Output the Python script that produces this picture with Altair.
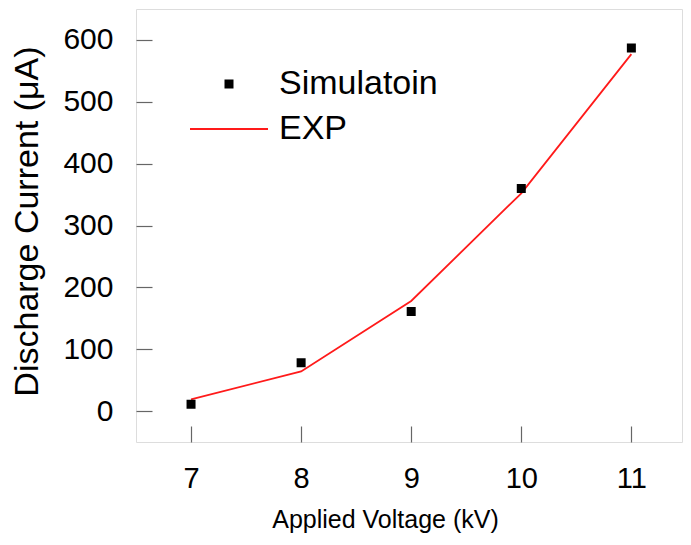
import altair as alt
import pandas as pd

# ---- data ----
voltage = [7, 8, 9, 10, 11]
simulation = [11, 78, 161, 360, 587]
experiment = [19, 64, 178, 352, 577]
series_names = ["Simulatoin", "EXP"]
x_ticks = [7, 8, 9, 10, 11]
y_ticks = [0, 100, 200, 300, 400, 500, 600]

sim_df = pd.DataFrame({"voltage": voltage, "current": simulation, "series": series_names[0]})
exp_df = pd.DataFrame({"voltage": voltage, "current": experiment, "series": series_names[1]})

FONT = "Liberation Sans"

x_scale = alt.Scale(domain=[6.5, 11.46], nice=False, zero=False)
y_scale = alt.Scale(domain=[-50, 650], nice=False, zero=False)

x_axis = alt.Axis(
    values=x_ticks, format="d", title="Applied Voltage (kV)",
    offset=-16, tickSize=16, domain=False, grid=False,
    tickColor="#666666", tickWidth=1.2,
    labelFont=FONT, labelFontSize=29, labelColor="black", labelPadding=22,
    titleFont=FONT, titleFontSize=25, titleFontWeight="normal", titleColor="black",
    titleX=249, titleY=101, titleBaseline="alphabetic", titleAlign="center",
)
y_axis = alt.Axis(
    values=y_ticks, format="d", title="Discharge Current (\u03bcA)",
    offset=-16, tickSize=16, domain=False, grid=False,
    tickColor="#666666", tickWidth=1.2,
    labelFont=FONT, labelFontSize=30, labelColor="black", labelPadding=23,
    titleFont=FONT, titleFontSize=34, titleFontWeight="normal", titleColor="black",
    titleAngle=-90, titleX=-115, titleY=212, titleBaseline="alphabetic", titleAlign="center",
)

line = alt.Chart(exp_df).mark_line(color="#ff1a1a", strokeWidth=1.8).encode(
    x=alt.X("voltage:Q", scale=x_scale, axis=x_axis),
    y=alt.Y("current:Q", scale=y_scale, axis=y_axis),
)

legend = alt.Legend(
    title=None, orient="none", legendX=53, legendY=58, padding=0,
    labelFont=FONT, labelFontSize=34, labelColor="black", labelOffset=10,
    symbolStrokeWidth=2, clipHeight=34, rowPadding=11,
)

points = alt.Chart(sim_df).mark_point(filled=True, opacity=1, strokeWidth=2).encode(
    x=alt.X("voltage:Q", scale=x_scale),
    y=alt.Y("current:Q", scale=y_scale),
    fill=alt.Fill("series:N", scale=alt.Scale(domain=series_names, range=["black", "#ff1a1a"]), legend=legend),
    stroke=alt.Stroke("series:N", scale=alt.Scale(domain=series_names, range=["black", "#ff1a1a"]), legend=legend),
    shape=alt.Shape("series:N", scale=alt.Scale(domain=series_names, range=["square", "stroke"]), legend=legend),
    size=alt.Size("series:N", scale=alt.Scale(domain=series_names, range=[49, 6084]), legend=legend),
)

chart = alt.layer(line, points).properties(
    width=546, height=433,
    autosize=alt.AutoSizeParams(type="none"),
    padding={"left": 128, "top": 1, "right": 1, "bottom": 95},
).configure_view(stroke="#7a7a7a", strokeWidth=1.2).configure(background="white")

chart.save("out.html", embed_options={"renderer": "svg", "actions": False})
